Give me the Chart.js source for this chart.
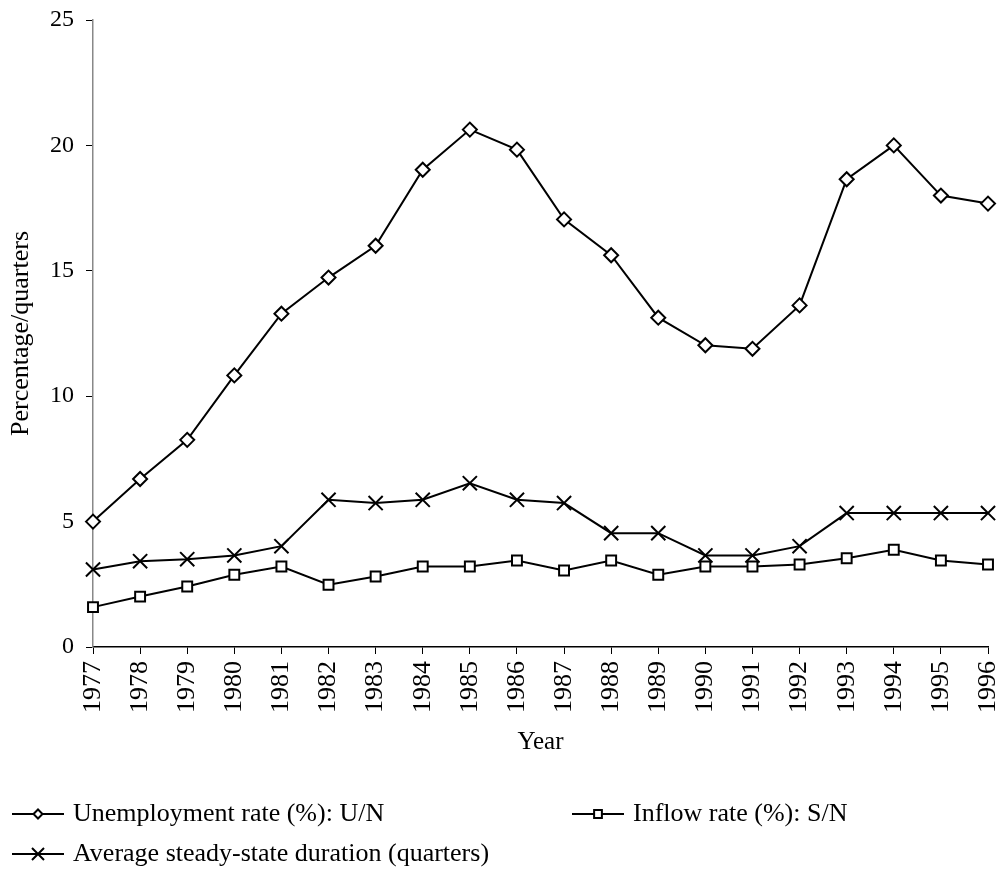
<!DOCTYPE html>
<html>
<head>
<meta charset="utf-8">
<script src="https://cdn.jsdelivr.net/npm/chart.js@4.4.1/dist/chart.umd.min.js"></script>
<style>
  html, body { margin: 0; padding: 0; background: #fff; }
  #wrap { width: 1004px; height: 877px; position: relative; }
</style>
</head>
<body>
<div id="wrap"><canvas id="chart"></canvas></div>
<script>
const years = ['1977', '1978', '1979', '1980', '1981', '1982', '1983', '1984', '1985', '1986',
  '1987', '1988', '1989', '1990', '1991', '1992', '1993', '1994', '1995', '1996'];

// U/N, %
const unemploymentRate = [5.0, 6.7, 8.26, 10.83, 13.29, 14.73, 16.0, 19.03, 20.63, 19.83,
  17.05, 15.62, 13.13, 12.03, 11.89, 13.62, 18.65, 20.0, 18.0, 17.68];

// S/N, %
const inflowRate = [1.59, 2.01, 2.41, 2.88, 3.21, 2.48, 2.81, 3.21, 3.21, 3.45,
  3.05, 3.45, 2.88, 3.21, 3.21, 3.29, 3.54, 3.88, 3.45, 3.29];

// quarters
const avgDuration = [3.09, 3.42, 3.5, 3.65, 4.02, 5.87, 5.74, 5.87, 6.53, 5.87,
  5.74, 4.54, 4.54, 3.65, 3.65, 4.02, 5.34, 5.34, 5.34, 5.34];

const yTicks = [0, 5, 10, 15, 20, 25];

const FONT = "'Liberation Serif', 'Times New Roman', serif";

// legend drawn under the axis in two columns, like the original
const legendPlugin = {
  id: 'bottomLegend',
  afterDraw(chart) {
    const ctx = chart.ctx;
    const slots = [
      { x: 12, y: 814 },
      { x: 572, y: 814 },
      { x: 12, y: 854 }
    ];
    const markerSize = { rectRot: 4.5, rect: 5.5, crossRot: 8.5 };
    ctx.save();
    ctx.font = '26px ' + FONT;
    ctx.textBaseline = 'middle';
    chart.data.datasets.forEach((ds, i) => {
      const s = slots[i];
      ctx.strokeStyle = '#000';
      ctx.lineWidth = 2;
      ctx.beginPath();
      ctx.moveTo(s.x, s.y);
      ctx.lineTo(s.x + 52, s.y);
      ctx.stroke();
      ctx.fillStyle = '#fff';
      Chart.helpers.drawPoint(ctx, {
        pointStyle: ds.pointStyle,
        radius: markerSize[ds.pointStyle],
        borderWidth: 2
      }, s.x + 26, s.y);
      ctx.fillStyle = '#000';
      ctx.fillText(ds.label, s.x + 61, s.y);
    });
    ctx.restore();
  }
};

const ctx = document.getElementById('chart').getContext('2d');

new Chart(ctx, {
  type: 'line',
  data: {
    labels: years,
    datasets: [
      {
        label: 'Unemployment rate (%): U/N',
        data: unemploymentRate,
        pointStyle: 'rectRot',
        pointRadius: 7
      },
      {
        label: 'Inflow rate (%): S/N',
        data: inflowRate,
        pointStyle: 'rect',
        pointRadius: 7
      },
      {
        label: 'Average steady-state duration (quarters)',
        data: avgDuration,
        pointStyle: 'crossRot',
        pointRadius: 10
      }
    ].map(d => Object.assign({
      borderColor: '#000',
      backgroundColor: '#fff',
      borderWidth: 2,
      pointBorderColor: '#000',
      pointBackgroundColor: '#fff',
      pointBorderWidth: 2,
      tension: 0,
      fill: false
    }, d))
  },
  options: {
    responsive: true,
    maintainAspectRatio: false,
    animation: false,
    layout: { padding: { top: 20, right: 16, left: 0, bottom: 110 } },
    plugins: {
      legend: { display: false },
      tooltip: { enabled: false }
    },
    scales: {
      x: {
        offset: false,
        grid: { display: true, drawOnChartArea: false, tickLength: 7, color: '#000', lineWidth: 1 },
        border: { color: '#000', width: 1.5 },
        ticks: {
          color: '#000',
          font: { family: FONT, size: 26 },
          minRotation: 90,
          maxRotation: 90,
          padding: 7,
          autoSkip: false
        },
        title: {
          display: true,
          text: 'Year',
          color: '#000',
          font: { family: FONT, size: 25 },
          padding: { top: 0, bottom: 10 }
        },
        afterFit(scale) {
          scale.height = 120;
          // keep the plot running right up to the edge
          scale.paddingLeft = 0;
          scale.paddingRight = 0;
        }
      },
      y: {
        min: 0,
        max: 25,
        afterBuildTicks(scale) { scale.ticks = yTicks.map(v => ({ value: v })); },
        grid: { display: true, drawOnChartArea: false, tickLength: 7, color: '#000', lineWidth: 1 },
        border: { color: '#888', width: 1.5 },
        ticks: {
          color: '#000',
          font: { family: FONT, size: 24 },
          padding: 12
        },
        title: {
          display: true,
          text: 'Percentage/quarters',
          color: '#000',
          font: { family: FONT, size: 26 },
          padding: { top: 6, bottom: 0 }
        },
        afterFit(scale) {
          scale.width = 93;
          scale.paddingTop = 0;
          scale.paddingBottom = 0;
        }
      }
    }
  },
  plugins: [legendPlugin]
});
</script>
</body>
</html>
